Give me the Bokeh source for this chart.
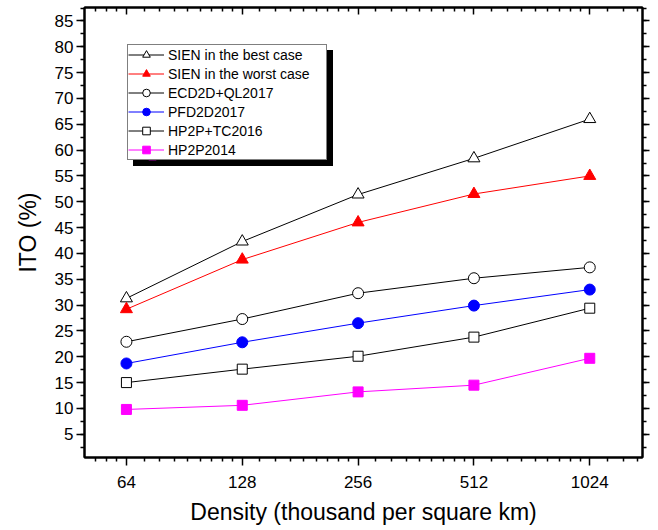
from bokeh.plotting import figure
from bokeh.models import (Range1d, FixedTicker, SingleIntervalTicker, LogAxis, LinearAxis,
                          Legend, LegendItem, CustomJSTickFormatter)
from bokeh.embed import file_html
from bokeh.resources import INLINE

# ---- data ----
density = [64, 128, 256, 512, 1024]
x_tick_labels = ["64", "128", "256", "512", "1024"]

sien_best = [31.3, 42.3, 51.4, 58.4, 66.0]
sien_worst = [29.2, 38.8, 46.0, 51.5, 55.0]
ecd2d_ql2017 = [22.9, 27.3, 32.3, 35.2, 37.3]
pfd2d2017 = [18.7, 22.8, 26.5, 29.9, 33.0]
hp2p_tc2016 = [15.0, 17.6, 20.1, 23.8, 29.4]
hp2p2014 = [9.8, 10.6, 13.2, 14.5, 19.7]

series_names = ["SIEN in the best case", "SIEN in the worst case", "ECD2D+QL2017",
                "PFD2D2017", "HP2P+TC2016", "HP2P2014"]
series_values = [sien_best, sien_worst, ecd2d_ql2017, pfd2d2017, hp2p_tc2016, hp2p2014]

# ---- styles ----
styles = [
    dict(line="black", marker="triangle", fill="white", mline="black", size=12),
    dict(line="red", marker="triangle", fill="red", mline="red", size=12),
    dict(line="black", marker="circle", fill="white", mline="black", size=11),
    dict(line="blue", marker="circle", fill="blue", mline="blue", size=11),
    dict(line="black", marker="square", fill="white", mline="black", size=10),
    dict(line="#ff00ff", marker="square", fill="#ff00ff", mline="#ff00ff", size=10),
]

FONT = "Liberation Sans"

p = figure(width=650, height=528, x_axis_type="log",
           x_range=Range1d(49.8, 1404), y_range=Range1d(0.5, 87.6),
           output_backend="svg", toolbar_location=None,
           min_border_left=84, min_border_right=8, min_border_top=7, min_border_bottom=71)
p.xgrid.visible = False
p.ygrid.visible = False
p.outline_line_color = "black"
p.outline_line_width = 2
p.background_fill_color = "white"
p.border_fill_color = "white"

# x ticks (log2 axis, 8 linear minors per octave)
minor_x = []
for b in [32] + density:
    for k in range(1, 9):
        minor_x.append(b * (1 + k / 9))
x_ticker = FixedTicker(ticks=density, minor_ticks=minor_x)
y_ticker = SingleIntervalTicker(interval=5, num_minor_ticks=2)

xa = p.xaxis[0]
xa.ticker = x_ticker
xa.major_label_overrides = {d: lab for d, lab in zip(density, x_tick_labels)}
xa.axis_label = "Density (thousand per square km)"
ya = p.yaxis[0]
ya.ticker = y_ticker
ya.axis_label = "ITO (%)"

for ax in (xa, ya):
    ax.axis_line_width = 2
    ax.axis_line_color = "black"
    ax.major_tick_line_width = 1.5
    ax.minor_tick_line_width = 1.5
    ax.major_tick_line_color = "black"
    ax.minor_tick_line_color = "black"
    ax.major_tick_out = 8
    ax.major_tick_in = 0
    ax.minor_tick_out = 4
    ax.minor_tick_in = 0
    ax.major_label_text_font = FONT
    ax.major_label_text_font_size = "17px"
    ax.major_label_text_color = "black"
    ax.axis_label_text_font = FONT
    ax.axis_label_text_font_size = "23px"
    ax.axis_label_text_font_style = "normal"
    ax.axis_label_text_color = "black"

xa.major_label_standoff = 10
xa.axis_label_standoff = 8
ya.major_label_standoff = 3
ya.axis_label_standoff = 11

blank = CustomJSTickFormatter(code="return ''")
top = LogAxis(ticker=x_ticker, formatter=blank, major_tick_in=7, major_tick_out=0,
              minor_tick_in=4, minor_tick_out=0, major_label_standoff=0,
              axis_line_width=2, major_tick_line_width=1.5, minor_tick_line_width=1.5)
right = LinearAxis(ticker=y_ticker, formatter=blank, major_tick_in=0, major_tick_out=7,
                   minor_tick_in=0, minor_tick_out=4, major_label_standoff=0,
                   axis_line_width=2, major_tick_line_width=1.5, minor_tick_line_width=1.5)
p.add_layout(top, "above")
p.add_layout(right, "right")

items = []
shadow_items = []
for name, vals, st in zip(series_names, series_values, styles):
    lr = p.line(density, vals, line_color=st["line"], line_width=1)
    sr = p.scatter(density, vals, marker=st["marker"], size=st["size"],
                   fill_color=st["fill"], line_color=st["mline"], line_width=1)
    items.append(LegendItem(label=name, renderers=[lr, sr]))
    shadow_items.append(LegendItem(label=" ", renderers=[lr, sr]))

legend_kw = dict(padding=0, spacing=0, glyph_height=19, glyph_width=36,
                 label_height=19, label_width=158, label_standoff=4,
                 label_text_font=FONT, label_text_font_size="14px",
                 border_line_width=1, margin=0)
shadow = Legend(items=shadow_items, location=(49, 291), background_fill_color="black",
                background_fill_alpha=1, border_line_color="black",
                label_text_color="black", **legend_kw)
main = Legend(items=items, location=(43, 297), background_fill_color="white",
              background_fill_alpha=1, border_line_color="black",
              label_text_color="black", **legend_kw)
p.add_layout(shadow, "center")
p.add_layout(main, "center")

open("out.html", "w").write(file_html(p, INLINE))
